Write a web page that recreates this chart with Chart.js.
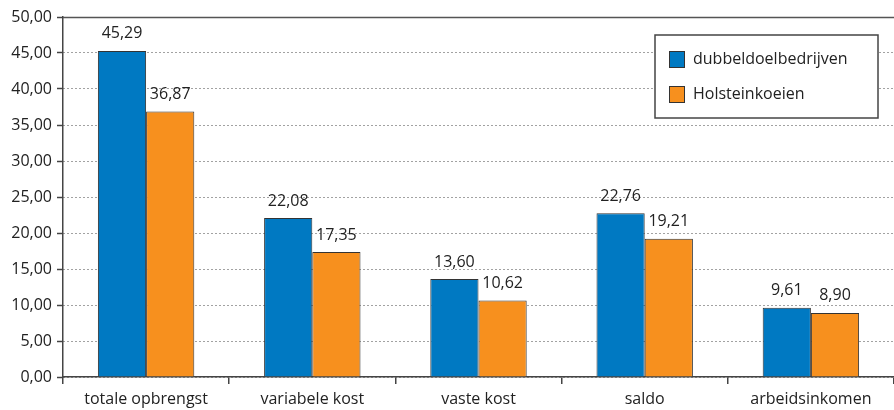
<!DOCTYPE html>
<html>
<head>
<meta charset="utf-8">
<script src="https://cdn.jsdelivr.net/npm/chart.js@4/dist/chart.umd.min.js"></script>
<style>
  html, body { margin: 0; padding: 0; background: #fff; }
  #wrap { width: 894px; height: 410px; }
</style>
</head>
<body>
<div id="wrap"><canvas id="c" width="894" height="410"></canvas></div>
<script>
// gegevens
const categories = ['totale opbrengst', 'variabele kost', 'vaste kost', 'saldo', 'arbeidsinkomen'];
const dubbeldoel = [45.29, 22.08, 13.60, 22.76, 9.61];
const holstein = [36.87, 17.35, 10.62, 19.21, 8.90];
const seriesNames = ['dubbeldoelbedrijven', 'Holsteinkoeien'];
const seriesColors = ['#0079c2', '#f7901e'];

const FONT = '"Open Sans", "DejaVu Sans", sans-serif';
const TXT = '#222';
const fmt = v => v.toFixed(2).replace('.', ',');

// waarden boven de staven
const valueLabels = {
  id: 'valueLabels',
  afterDatasetsDraw(chart) {
    const ctx = chart.ctx;
    ctx.save();
    ctx.font = '16px ' + FONT;
    ctx.fillStyle = TXT;
    ctx.textAlign = 'center';
    ctx.textBaseline = 'bottom';
    chart.data.datasets.forEach((ds, i) => {
      chart.getDatasetMeta(i).data.forEach((bar, j) => {
        ctx.fillText(fmt(ds.data[j]), bar.x, bar.y - 9);
      });
    });
    ctx.restore();
  }
};

// bovenlijn + legenda in kader
const frame = {
  id: 'frame',
  beforeDatasetsDraw(chart) {
    const { ctx, chartArea: a } = chart;
    ctx.save();
    ctx.strokeStyle = '#555';
    ctx.lineWidth = 1.5;
    ctx.beginPath();
    ctx.moveTo(a.left, a.top + 0.5);
    ctx.lineTo(chart.width, a.top + 0.5);
    ctx.stroke();
    ctx.restore();
  },
  afterDraw(chart) {
    const ctx = chart.ctx;
    ctx.save();
    ctx.fillStyle = '#fff';
    ctx.fillRect(655, 35, 223, 83);
    ctx.strokeStyle = '#444';
    ctx.lineWidth = 1.5;
    ctx.strokeRect(655, 35, 223, 83);
    ctx.font = '16px ' + FONT;
    ctx.textBaseline = 'middle';
    ctx.textAlign = 'left';
    chart.data.datasets.forEach((ds, i) => {
      const cy = 59 + i * 35;
      ctx.fillStyle = ds.backgroundColor;
      ctx.fillRect(669, cy - 8, 15, 16);
      ctx.strokeStyle = '#333';
      ctx.lineWidth = 1;
      ctx.strokeRect(669.5, cy - 7.5, 15, 16);
      ctx.fillStyle = TXT;
      ctx.fillText(ds.label, 693, cy);
    });
    ctx.restore();
  }
};

new Chart(document.getElementById('c'), {
  type: 'bar',
  data: {
    labels: categories,
    datasets: [
      { label: seriesNames[0], data: dubbeldoel, backgroundColor: seriesColors[0], borderColor: '#333', borderWidth: 1 },
      { label: seriesNames[1], data: holstein, backgroundColor: seriesColors[1], borderColor: '#333', borderWidth: 1 },
    ],
  },
  options: {
    responsive: false,
    animation: false,
    layout: { padding: { top: 17, right: 0, left: 0, bottom: 0 } },
    datasets: { bar: { categoryPercentage: 0.58, barPercentage: 1.0 } },
    plugins: { legend: { display: false }, tooltip: { enabled: false } },
    scales: {
      x: {
        offset: true,
        grid: { offset: true, drawOnChartArea: false, drawTicks: true, tickLength: 7, color: '#444', lineWidth: 1.5 },
        border: { display: true, color: '#444', width: 1.5 },
        ticks: { color: TXT, font: { family: FONT, size: 16 }, padding: 6, maxRotation: 0 },
        afterFit: s => { s.height = 33; },
      },
      y: {
        min: 0, max: 50,
        grid: { color: '#444', lineWidth: 1, tickLength: 6, tickColor: '#444', tickBorderDash: [], tickWidth: 1.5 },
        border: { display: true, color: '#444', width: 1.5, dash: [1, 3] },
        ticks: { stepSize: 5, color: TXT, font: { family: FONT, size: 16 }, padding: 5, callback: v => fmt(v) },
        afterFit: s => { s.width = 63; },
      },
    },
  },
  plugins: [frame, valueLabels],
});
</script>
</body>
</html>
